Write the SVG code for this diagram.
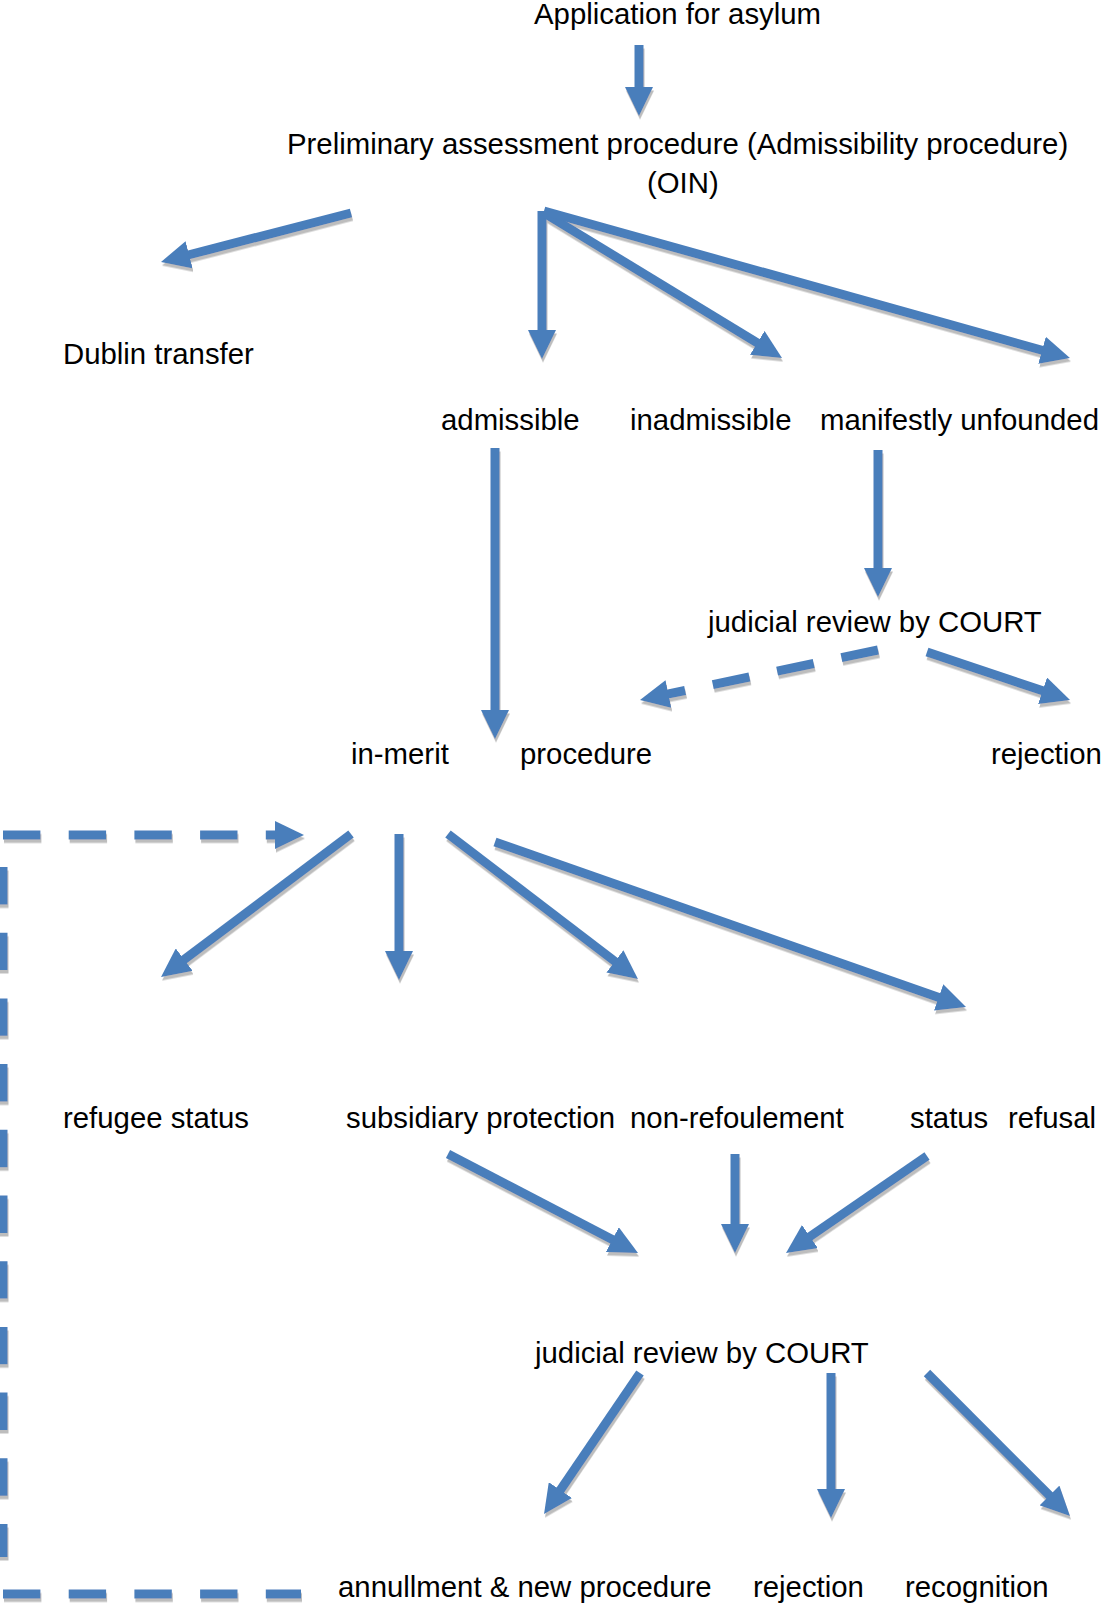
<svg xmlns="http://www.w3.org/2000/svg" width="1101" height="1604" viewBox="0 0 1101 1604">
<style>
text{font-family:"Liberation Sans",Arial,sans-serif;font-size:29.35px;fill:#000}
.c{stroke:#4a7ebb;stroke-width:9;fill:none;stroke-linecap:butt}
.d{stroke-dasharray:37.4 28.3}
.h{fill:#4a7ebb}
</style>
<defs>
<filter id="sh" x="-5%" y="-5%" width="110%" height="110%">
<feDropShadow dx="1" dy="3.5" stdDeviation="0.7" flood-color="#bdbdbd" flood-opacity="1"/>
</filter>
<marker id="ah" markerUnits="userSpaceOnUse" markerWidth="29" markerHeight="28" viewBox="-1 0 29 28" refX="0" refY="14" orient="auto">
<path d="M-1,0 L28,14 L-1,28 z" class="h"/>
</marker>
</defs>
<rect width="1101" height="1604" fill="#fff"/>
<g id="connectors" filter="url(#sh)">
<line class="c" x1="639" y1="45" x2="639" y2="88" marker-end="url(#ah)"/>
<line class="c" x1="351" y1="213" x2="188.1" y2="255" marker-end="url(#ah)"/>
<line class="c" x1="542" y1="211" x2="542" y2="331" marker-end="url(#ah)"/>
<line class="c" x1="544" y1="213" x2="758.1" y2="343.4" marker-end="url(#ah)"/>
<line class="c" x1="544" y1="211" x2="1043" y2="350.5" marker-end="url(#ah)"/>
<line class="c" x1="495" y1="448" x2="495" y2="711" marker-end="url(#ah)"/>
<line class="c" x1="878" y1="450" x2="878" y2="569" marker-end="url(#ah)"/>
<line class="c d" x1="878" y1="650" x2="667.4" y2="694.2" marker-end="url(#ah)"/>
<line class="c" x1="927" y1="652" x2="1043.5" y2="691.1" marker-end="url(#ah)"/>
<line class="c d" x1="3" y1="835" x2="276" y2="835" marker-end="url(#ah)"/>
<line class="c d" x1="3" y1="867" x2="3" y2="1557"/>
<line class="c d" x1="3" y1="1594" x2="301" y2="1594"/>
<line class="c" x1="351" y1="834" x2="183.4" y2="960.2" marker-end="url(#ah)"/>
<line class="c" x1="399" y1="834" x2="399" y2="952" marker-end="url(#ah)"/>
<line class="c" x1="448" y1="834" x2="615.7" y2="962" marker-end="url(#ah)"/>
<line class="c" x1="495" y1="842" x2="939.6" y2="997.7" marker-end="url(#ah)"/>
<line class="c" x1="448" y1="1154" x2="613.2" y2="1240.1" marker-end="url(#ah)"/>
<line class="c" x1="735" y1="1154" x2="735" y2="1225" marker-end="url(#ah)"/>
<line class="c" x1="927" y1="1156" x2="809.1" y2="1237.1" marker-end="url(#ah)"/>
<line class="c" x1="640" y1="1373" x2="559.8" y2="1490.9" marker-end="url(#ah)"/>
<line class="c" x1="831" y1="1373" x2="831" y2="1490" marker-end="url(#ah)"/>
<line class="c" x1="927" y1="1373" x2="1050.2" y2="1496.2" marker-end="url(#ah)"/>
</g>
<g id="n-application"><text x="534" y="24">Application for asylum</text></g>
<g id="n-preliminary"><text x="287" y="154">Preliminary assessment procedure (Admissibility procedure)</text><text x="647" y="193">(OIN)</text></g>
<g id="n-dublin"><text x="63" y="364">Dublin transfer</text></g>
<g id="n-admissible"><text x="441" y="430">admissible</text></g>
<g id="n-inadmissible"><text x="630" y="430">inadmissible</text></g>
<g id="n-manifestly"><text x="820" y="430">manifestly unfounded</text></g>
<g id="n-court1"><text x="708" y="632">judicial review by COURT</text></g>
<g id="n-inmerit"><text x="351" y="764">in-merit</text><text x="520" y="764">procedure</text></g>
<g id="n-rejection1"><text x="991" y="764">rejection</text></g>
<g id="n-refugee"><text x="63" y="1128">refugee status</text></g>
<g id="n-subsidiary"><text x="346" y="1128">subsidiary protection</text></g>
<g id="n-nonrefoulement"><text x="630" y="1128">non-refoulement</text></g>
<g id="n-refusal"><text x="910" y="1128">status</text><text x="1008" y="1128">refusal</text></g>
<g id="n-court2"><text x="535" y="1363">judicial review by COURT</text></g>
<g id="n-annulment"><text x="338" y="1597">annullment &amp; new procedure</text></g>
<g id="n-rejection2"><text x="753" y="1597">rejection</text></g>
<g id="n-recognition"><text x="905" y="1597">recognition</text></g>
</svg>
